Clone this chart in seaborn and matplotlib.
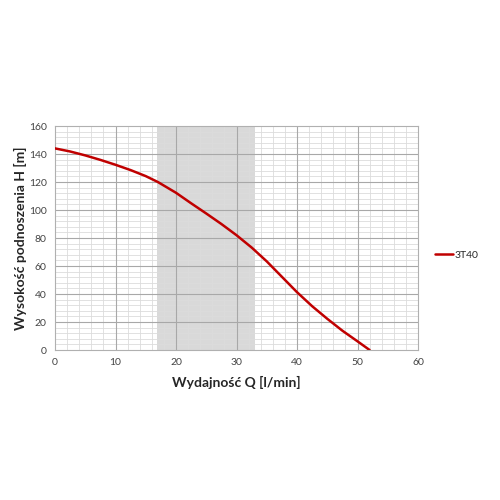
import matplotlib
matplotlib.use('Agg')
import matplotlib.pyplot as plt
import numpy as np
import pandas as pd
import seaborn as sns

# krzywa pompy 3T40
Q = [0, 2.5, 5, 7.5, 10, 12.5, 15, 17, 20, 22.5, 25, 27.5, 30, 32.5, 35, 37.5, 40, 42.5, 45, 47.5, 50, 52]
H = [144, 141.8, 139, 135.8, 132.3, 128.5, 124.2, 120, 112.3, 104.8, 97.5, 90, 82, 73.2, 63.3, 52.3, 41.3, 31.3, 22.3, 13.8, 6.2, 0]
SERIES = '3T40'
# zakres pracy (zacieniowany)
BAND = (16.8, 33.0)


def main():
    sns.set_theme(style='white')
    plt.rcParams['font.family'] = ['Lato', 'DejaVu Sans']

    data = pd.DataFrame({'Q': Q, 'H': H, 'seria': SERIES})

    fig = plt.figure(figsize=(5, 5), dpi=100)
    ax = fig.add_axes([0.11, 0.30, 0.726, 0.448])

    ax.axvspan(BAND[0], BAND[1], color='#d9d9d9', zorder=0, lw=0)

    # siatka: najpierw drobna, potem główna, żeby główna była na wierzchu
    for v in range(0, 61, 2):
        if v % 10:
            ax.axvline(v, color='#dcdcdc', lw=0.6, zorder=1)
    for v in range(0, 161, 4):
        if v % 20:
            ax.axhline(v, color='#dcdcdc', lw=0.6, zorder=1)
    for v in range(10, 60, 10):
        ax.axvline(v, color='#a8a8a8', lw=0.8, zorder=2)
    for v in range(20, 160, 20):
        ax.axhline(v, color='#a8a8a8', lw=0.8, zorder=2)

    sns.lineplot(data=data, x='Q', y='H', hue='seria', palette=['#c00000'],
                 lw=1.8, ax=ax, zorder=3)

    ax.set_xlim(0, 60)
    ax.set_ylim(0, 160)
    ax.set_xticks(np.arange(0, 61, 10))
    ax.set_yticks(np.arange(0, 161, 20))
    ax.grid(False)
    for s in ax.spines.values():
        s.set_color('#b0b0b0')
        s.set_linewidth(0.8)
    ax.tick_params(which='both', length=0, labelsize=7.5, colors='#444444', pad=6)

    ax.set_xlabel('Wydajność Q [l/min]', fontsize=10, fontweight='bold', labelpad=6)
    ax.set_ylabel('Wysokość podnoszenia H [m]', fontsize=10, fontweight='bold', labelpad=1)

    ax.legend(loc='center left', bbox_to_anchor=(1.02, 0.424), frameon=False,
              fontsize=7.5, handlelength=1.8, handletextpad=0.1)
    fig.savefig('out.png', dpi=100)


if __name__ == '__main__':
    main()
